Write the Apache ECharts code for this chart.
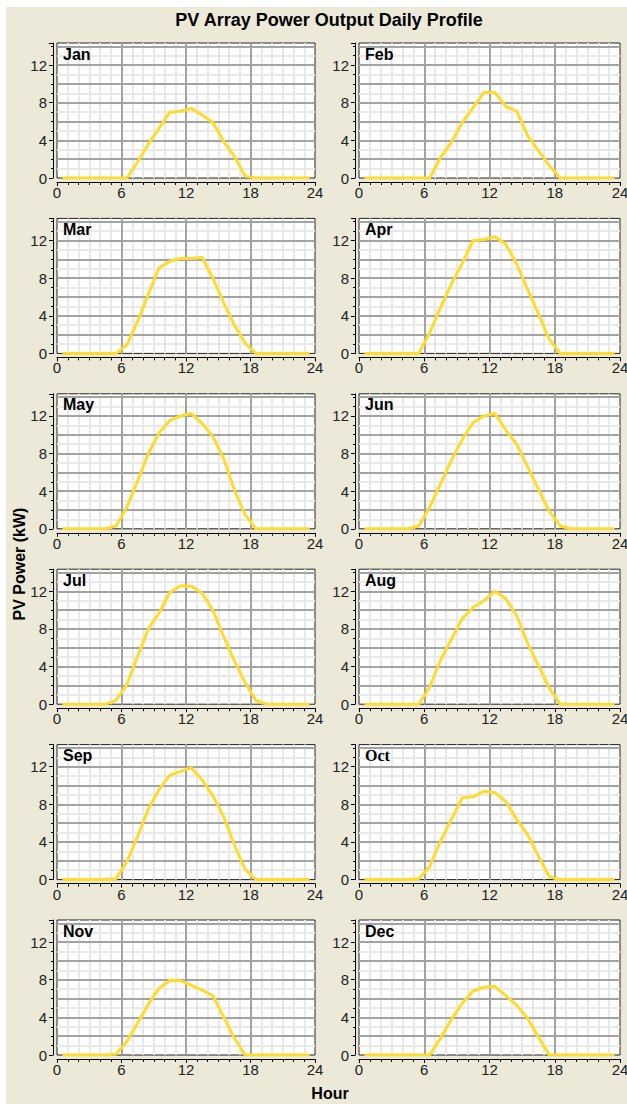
<!DOCTYPE html>
<html>
<head>
<meta charset="utf-8">
<script src="https://cdn.jsdelivr.net/npm/echarts@6/dist/echarts.min.js"></script>
<style>
html,body{margin:0;padding:0;background:#fff;}
#bg{position:absolute;left:6px;top:7px;width:621px;height:1097px;background:#ECE9D8;}
#chart{position:absolute;left:0;top:0;width:627px;height:1104px;}
</style>
</head>
<body>
<div id="bg"></div>
<div id="chart"></div>
<script>
// ---------------- data ----------------
const chartTitle = 'PV Array Power Output Daily Profile';
const yAxisTitle = 'PV Power (kW)';
const xAxisTitle = 'Hour';
const months = ['Jan','Feb','Mar','Apr','May','Jun','Jul','Aug','Sep','Oct','Nov','Dec'];
const xTickLabels = [0, 6, 12, 18, 24];
const yTickLabels = [0, 4, 8, 12];
const hours = [0.5,1.5,2.5,3.5,4.5,5.5,6.5,7.5,8.5,9.5,10.5,11.5,12.5,13.5,14.5,15.5,16.5,17.5,18.5,19.5,20.5,21.5,22.5,23.5];

const jan = [0,0,0,0,0,0, 0,1.7,3.6,5.3,7.0,7.1, 7.4,6.7,5.9,3.9,2.3,0.2, 0,0,0,0,0,0];
const feb = [0,0,0,0,0,0, 0,2.2,3.8,5.9,7.5,9.1, 9.1,7.6,7.1,4.5,2.9,1.3, 0,0,0,0,0,0];
const mar = [0,0,0,0,0,0, 0.9,3.4,6.3,9.1,9.8,10.1, 10.1,10.2,8.0,5.4,3.0,1.1, 0,0,0,0,0,0];
const apr = [0,0,0,0,0,0, 2.2,4.9,7.4,9.6,12.0,12.1, 12.4,11.6,9.5,6.8,4.2,1.5, 0,0,0,0,0,0];
const may = [0,0,0,0,0,0.3, 2.3,5.1,8.0,10.2,11.5,12.0, 12.25,11.2,9.8,7.5,4.1,1.5, 0,0,0,0,0,0];
const jun = [0,0,0,0,0,0.3, 2.3,4.8,7.3,9.5,11.3,12.0, 12.25,10.5,9.0,6.6,4.2,1.85, 0.3,0,0,0,0,0];
const jul = [0,0,0,0,0,0.4, 2.1,5.1,8.0,9.7,11.9,12.6, 12.55,11.8,10.0,7.2,4.6,2.3, 0.4,0,0,0,0,0];
const aug = [0,0,0,0,0,0, 1.8,4.7,6.9,9.1,10.3,11.0, 12.0,11.2,9.4,6.5,4.1,1.7, 0,0,0,0,0,0];
const sep = [0,0,0,0,0,0.1, 1.9,4.6,7.5,9.6,11.1,11.5, 11.9,10.6,8.9,6.7,3.7,1.1, 0,0,0,0,0,0];
const oct = [0,0,0,0,0,0.1, 1.4,4.1,6.4,8.7,8.8,9.4, 9.25,8.3,6.4,4.8,2.5,0.3, 0,0,0,0,0,0];
const nov = [0,0,0,0,0,0.1, 1.4,3.4,5.4,7.1,7.95,7.9, 7.4,6.9,6.3,4.05,1.8,0, 0,0,0,0,0,0];
const dec = [0,0,0,0,0,0, 0,1.8,3.8,5.5,6.8,7.2, 7.3,6.3,5.3,3.9,1.9,0, 0,0,0,0,0,0];
const monthValues = [jan,feb,mar,apr,may,jun,jul,aug,sep,oct,nov,dec];

// ---------------- layout / style ----------------
const FONT = "'Liberation Sans', Arial, sans-serif";
const SERIF = "'Liberation Serif', 'Times New Roman', serif";
const colLeft = [57, 359];
const colWidth = [258, 261];
const rowTop = r => 43 + r * 175.4;
const plotH = 135;
const YMAX = 14.35;
const xInterval = xTickLabels[1] - xTickLabels[0];
const yInterval = yTickLabels[1] - yTickLabels[0];
const LINE_COLOR = '#FFDB2B';
const MAJOR = '#A3A3A3';
const MINOR = '#E9E9E9';

const grids = [], xAxes = [], yAxes = [], series = [], graphics = [];

months.forEach((m, i) => {
  const r = Math.floor(i / 2), c = i % 2;
  const top = rowTop(r);
  grids.push({
    left: colLeft[c], top: top, width: colWidth[c], height: plotH,
    show: true, backgroundColor: '#ffffff', borderColor: '#222', borderWidth: 1,
    containLabel: false, outerBoundsMode: 'none'
  });
  xAxes.push({
    gridIndex: i, type: 'value', min: xTickLabels[0], max: xTickLabels[xTickLabels.length - 1],
    interval: xInterval, offset: 4, z: 3,
    axisLine: { show: true, onZero: false, lineStyle: { color: '#000', width: 1 } },
    axisTick: { show: true, length: 4, lineStyle: { color: '#000', width: 1 } },
    minorTick: { show: true, splitNumber: 6, length: 3, lineStyle: { color: '#000', width: 1 } },
    axisLabel: { color: '#222', fontSize: 15, fontFamily: FONT, margin: 3, showMinLabel: true, showMaxLabel: true },
    splitLine: { show: true, showMinLine: false, showMaxLine: false, lineStyle: { color: MAJOR, width: 2 } },
    minorSplitLine: { show: false }
  });
  xAxes.push({
    gridIndex: i, type: 'value', min: xTickLabels[0], max: xTickLabels[xTickLabels.length - 1],
    interval: 1, z: 1,
    axisLine: { show: false }, axisTick: { show: false }, axisLabel: { show: false },
    splitLine: { show: true, showMinLine: false, showMaxLine: false, lineStyle: { color: MINOR, width: 2 } }
  });
  yAxes.push({
    gridIndex: i, type: 'value', position: 'left', min: 0, max: YMAX, interval: yInterval, offset: 4, z: 3,
    axisLine: { show: true, onZero: false, lineStyle: { color: '#000', width: 1 } },
    axisTick: { show: true, length: 4, lineStyle: { color: '#000', width: 1 } },
    minorTick: { show: true, splitNumber: 4, length: 2, lineStyle: { color: '#000', width: 1 } },
    axisLabel: { color: '#222', fontSize: 15, fontFamily: FONT, margin: 6, showMaxLabel: false },
    splitLine: { show: false }
  });
  yAxes.push({
    gridIndex: i, type: 'value', position: 'left', min: 0, max: YMAX, interval: yInterval / 2, z: 2,
    axisLine: { show: false }, axisTick: { show: false }, axisLabel: { show: false },
    splitLine: { show: true, showMinLine: false, showMaxLine: false, lineStyle: { color: MAJOR, width: 2 } }
  });
  yAxes.push({
    gridIndex: i, type: 'value', position: 'left', min: 0, max: YMAX, interval: yInterval / 4, z: 1,
    axisLine: { show: false }, axisTick: { show: false }, axisLabel: { show: false },
    splitLine: { show: true, showMinLine: false, showMaxLine: false, lineStyle: { color: MINOR, width: 2 } }
  });
  series.push({
    type: 'line', xAxisIndex: 2 * i, yAxisIndex: 3 * i, z: 10,
    data: hours.map((h, k) => [h, monthValues[i][k]]),
    symbol: 'none', smooth: false,
    lineStyle: { color: LINE_COLOR, width: 3, join: 'round' },
    itemStyle: { color: LINE_COLOR },
    emphasis: { disabled: true }, silent: true
  });
  graphics.push({
    type: 'text', x: colLeft[c] + 6, y: top + 3, z: 100,
    style: {
      text: m, fill: '#000',
      font: 'bold 16px ' + (m === 'Oct' ? SERIF : FONT),
      align: 'left', verticalAlign: 'top'
    }
  });
});

graphics.push({
  type: 'text', x: 329, y: 20, z: 100,
  style: { text: chartTitle, fill: '#000', font: 'bold 18px ' + FONT, align: 'center', verticalAlign: 'middle' }
});
graphics.push({
  type: 'text', x: 19, y: 564, rotation: Math.PI / 2, z: 100,
  style: { text: yAxisTitle, fill: '#000', font: 'bold 16px ' + FONT, align: 'center', verticalAlign: 'middle' }
});
graphics.push({
  type: 'text', x: 330, y: 1093, z: 100,
  style: { text: xAxisTitle, fill: '#000', font: 'bold 16px ' + FONT, align: 'center', verticalAlign: 'middle' }
});

const chart = echarts.init(document.getElementById('chart'), null, { renderer: 'svg', width: 627, height: 1104 });
chart.setOption({
  backgroundColor: 'transparent',
  animation: false,
  grid: grids,
  xAxis: xAxes,
  yAxis: yAxes,
  series: series,
  graphic: graphics
});
</script>
</body>
</html>
